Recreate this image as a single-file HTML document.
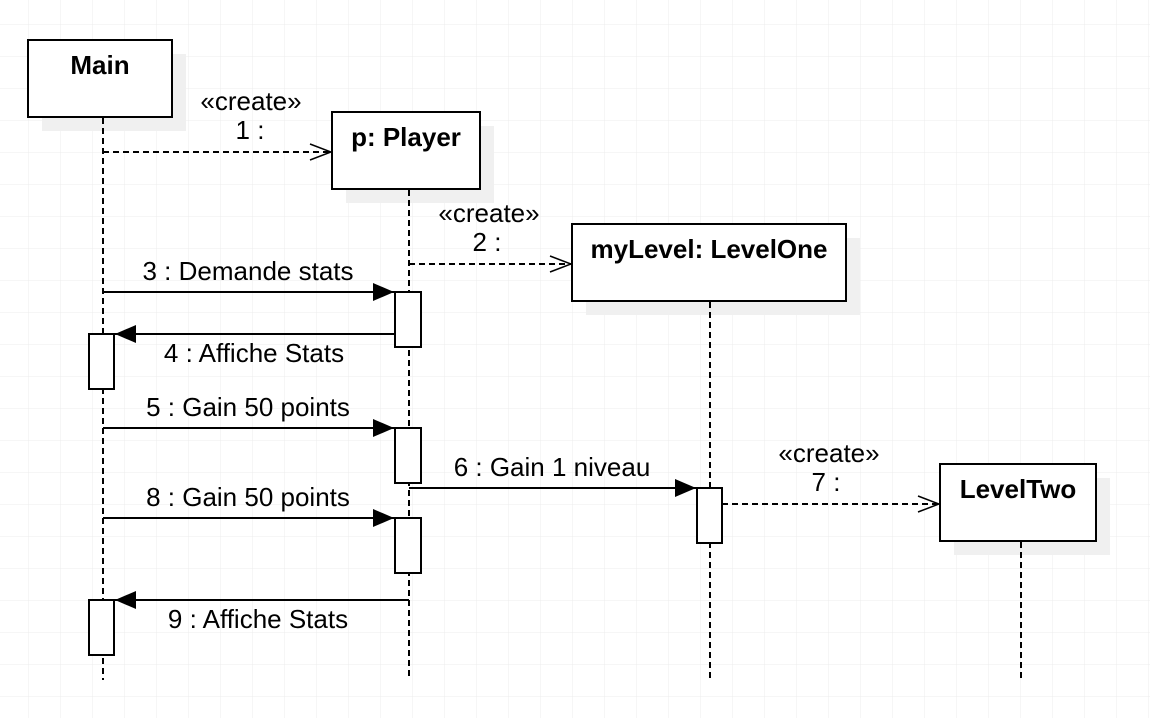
<!DOCTYPE html>
<html><head><meta charset="utf-8"><style>
html,body{margin:0;padding:0;background:#fff}
svg{display:block}
text{font-family:"Liberation Sans",Arial,sans-serif;fill:#000}
</style></head><body>
<svg width="1150" height="718" viewBox="0 0 1150 718" xmlns="http://www.w3.org/2000/svg">
<defs>
<pattern id="g" x="28" y="24" width="32" height="32" patternUnits="userSpaceOnUse">
<path d="M0 0H32M0 0V32" stroke="#ececec" stroke-width="1" fill="none"/>
</pattern>
<marker id="fa" markerWidth="22" markerHeight="18" refX="21" refY="9" orient="auto" markerUnits="userSpaceOnUse">
<path d="M0 0L21 9L0 18z" fill="#000"/>
</marker>
<marker id="oa" markerWidth="24" markerHeight="18" refX="22" refY="9" orient="auto" markerUnits="userSpaceOnUse">
<path d="M1 1L22 9L1 17" fill="none" stroke="#000" stroke-width="1.5"/>
</marker>
</defs>
<rect width="1150" height="718" fill="url(#g)"/>
<g fill="#f0f0f0">
<rect x="42" y="54" width="144" height="77"/>
<rect x="346" y="126" width="148" height="77"/>
<rect x="586" y="238" width="274" height="77"/>
<rect x="954" y="478" width="156" height="77"/>
</g>
<g stroke="#000" stroke-width="2" stroke-dasharray="6,4">
<line x1="103" y1="118" x2="103" y2="680"/>
<line x1="409" y1="190" x2="409" y2="680"/>
<line x1="710" y1="302" x2="710" y2="680"/>
<line x1="1021" y1="542" x2="1021" y2="680"/>
</g>
<g fill="#fff" stroke="#000" stroke-width="2">
<rect x="28" y="40" width="144" height="77"/>
<rect x="332" y="112" width="148" height="77"/>
<rect x="572" y="224" width="274" height="77"/>
<rect x="940" y="464" width="156" height="77"/>
</g>
<g font-size="26" font-weight="bold" text-anchor="middle">
<text x="100" y="74">Main</text>
<text x="406" y="146">p: Player</text>
<text x="709" y="258">myLevel: LevelOne</text>
<text x="1018" y="498">LevelTwo</text>
</g>
<g fill="#fff" stroke="#000" stroke-width="2">
<rect x="395" y="292" width="26" height="55"/>
<rect x="395" y="428" width="26" height="55"/>
<rect x="395" y="518" width="26" height="55"/>
<rect x="89" y="334" width="25" height="55"/>
<rect x="89" y="600" width="25" height="55"/>
<rect x="697" y="488" width="25" height="55"/>
</g>
<g stroke="#000" stroke-width="2" fill="none">
<line x1="103" y1="152" x2="331" y2="152" stroke-dasharray="6,4" marker-end="url(#oa)"/>
<line x1="409" y1="264" x2="571" y2="264" stroke-dasharray="6,4" marker-end="url(#oa)"/>
<line x1="722" y1="504" x2="939" y2="504" stroke-dasharray="6,4" marker-end="url(#oa)"/>
<line x1="103" y1="292" x2="394" y2="292" marker-end="url(#fa)"/>
<line x1="395" y1="334" x2="115" y2="334" marker-end="url(#fa)"/>
<line x1="103" y1="428" x2="394" y2="428" marker-end="url(#fa)"/>
<line x1="409" y1="488" x2="696" y2="488" marker-end="url(#fa)"/>
<line x1="103" y1="518" x2="394" y2="518" marker-end="url(#fa)"/>
<line x1="409" y1="600" x2="115" y2="600" marker-end="url(#fa)"/>
</g>
<g font-size="26" text-anchor="middle">
<text x="251" y="110">«create»</text>
<text x="250" y="139">1 :</text>
<text x="489" y="222">«create»</text>
<text x="487" y="251">2 :</text>
<text x="829" y="462">«create»</text>
<text x="826" y="491">7 :</text>
<text x="248" y="280">3 : Demande stats</text>
<text x="254" y="362">4 : Affiche Stats</text>
<text x="248" y="416">5 : Gain 50 points</text>
<text x="552" y="476">6 : Gain 1 niveau</text>
<text x="248" y="506">8 : Gain 50 points</text>
<text x="258" y="628">9 : Affiche Stats</text>
</g>
</svg>
</body></html>
